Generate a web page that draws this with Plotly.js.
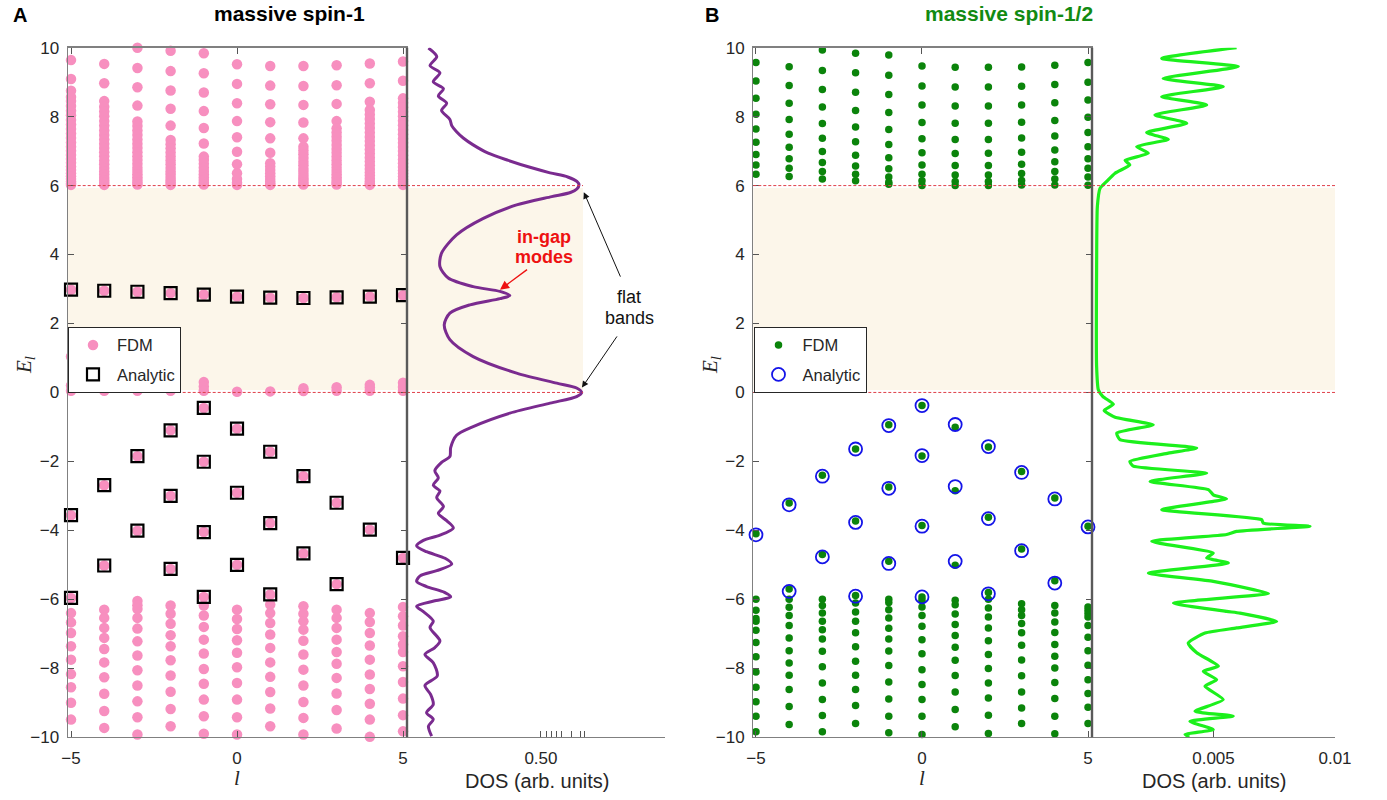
<!DOCTYPE html>
<html>
<head>
<meta charset="utf-8">
<script src="https://cdn.plot.ly/plotly-3.0.1.min.js"></script>
<style>
  html, body { margin: 0; padding: 0; background: #fff; }
  #chart { width: 1387px; height: 800px; }
</style>
</head>
<body>
<div id="chart"></div>
<script>
// Angular momentum channels
const lValues = [-5, -4, -3, -2, -1, 0, 1, 2, 3, 4, 5];

// Gap edges (flat bands)
const gapBottom = 0;
const gapTop = 6;

// ---------- massive spin-1: FDM eigenvalues, one list per l ----------
const spin1Upper = [
  [9.64, 9.09, 8.75, 8.57, 8.45, 8.31, 8.17, 8.04, 7.90, 7.77, 7.64, 7.51, 7.38, 7.25, 7.13, 7.01, 6.89, 6.77, 6.66, 6.55, 6.45, 6.36, 6.27, 6.19, 6.12, 6.06, 6.02],
  [9.53, 8.97, 8.45, 8.29, 8.15, 8.01, 7.87, 7.74, 7.60, 7.47, 7.34, 7.21, 7.09, 6.97, 6.85, 6.73, 6.62, 6.51, 6.41, 6.32, 6.23, 6.15, 6.08, 6.02],
  [10.0, 9.41, 8.85, 8.32, 7.86, 7.73, 7.60, 7.47, 7.34, 7.21, 7.09, 6.97, 6.85, 6.74, 6.63, 6.52, 6.42, 6.33, 6.24, 6.16, 6.09, 6.03],
  [9.91, 9.32, 8.76, 8.23, 7.74, 7.32, 7.20, 7.08, 6.96, 6.84, 6.73, 6.62, 6.51, 6.41, 6.32, 6.23, 6.15, 6.08, 6.02],
  [9.84, 9.26, 8.70, 8.16, 7.67, 7.22, 6.84, 6.74, 6.63, 6.52, 6.42, 6.33, 6.24, 6.16, 6.09, 6.03],
  [9.52, 8.95, 8.39, 7.87, 7.40, 6.98, 6.62, 6.36, 6.19, 6.08, 6.02],
  [9.47, 8.90, 8.36, 7.84, 7.37, 6.95, 6.65, 6.55, 6.45, 6.36, 6.27, 6.19, 6.12, 6.06, 6.02],
  [9.47, 8.89, 8.34, 7.83, 7.37, 7.13, 7.02, 6.91, 6.80, 6.69, 6.59, 6.49, 6.40, 6.31, 6.23, 6.16, 6.09, 6.03],
  [9.49, 8.91, 8.37, 7.87, 7.66, 7.54, 7.42, 7.30, 7.18, 7.06, 6.95, 6.84, 6.73, 6.62, 6.52, 6.42, 6.33, 6.24, 6.16, 6.09, 6.03],
  [9.54, 8.97, 8.43, 8.19, 8.06, 7.93, 7.80, 7.67, 7.54, 7.41, 7.29, 7.17, 7.05, 6.93, 6.81, 6.70, 6.59, 6.48, 6.38, 6.29, 6.20, 6.12, 6.06, 6.02],
  [9.60, 9.04, 8.53, 8.40, 8.27, 8.14, 8.01, 7.88, 7.75, 7.62, 7.49, 7.36, 7.24, 7.12, 7.00, 6.88, 6.76, 6.65, 6.54, 6.44, 6.35, 6.26, 6.18, 6.11, 6.05, 6.02]
];
const spin1Mid = [
  [2.98, 1.04, 0.20, 0.05, -3.56, -5.96],
  [2.95, 0.05, -2.69, -5.02],
  [2.92, 0.05, -1.85, -4.01],
  [2.88, 0.05, -1.10, -3.00, -5.12],
  [2.84, 0.30, 0.17, 0.05, -0.45, -2.01, -4.05, -5.93],
  [2.78, 0.02, -1.05, -2.91, -5.00],
  [2.75, 0.03, -1.72, -3.79, -5.86],
  [2.74, 0.12, 0.04, -2.43, -4.67],
  [2.76, 0.15, 0.05, -3.20, -5.56],
  [2.78, 0.22, 0.14, 0.05, -3.98],
  [2.82, 0.28, 0.16, 0.05, -4.80]
];
const spin1Lower = [
  [-6.40, -6.67, -6.98, -7.36, -7.75, -8.17, -8.55, -9.00, -9.49],
  [-6.30, -6.54, -6.83, -7.12, -7.44, -7.83, -8.26, -8.74, -9.24, -9.73],
  [-6.05, -6.17, -6.28, -6.54, -6.85, -7.22, -7.63, -8.06, -8.50, -8.96, -9.42, -9.92],
  [-6.18, -6.42, -6.71, -7.04, -7.36, -7.77, -8.21, -8.68, -9.18, -9.68],
  [-6.18, -6.47, -6.80, -7.17, -7.57, -8.02, -8.45, -8.91, -9.39, -9.90],
  [-6.30, -6.57, -6.86, -7.19, -7.55, -7.97, -8.43, -8.91, -9.42, -9.92],
  [-6.15, -6.40, -6.69, -7.02, -7.41, -7.83, -8.25, -8.69, -9.17, -9.68],
  [-6.20, -6.42, -6.64, -6.88, -7.20, -7.60, -8.04, -8.50, -8.98, -9.44, -9.92],
  [-6.30, -6.54, -6.83, -7.17, -7.53, -7.87, -8.28, -8.73, -9.21, -9.75],
  [-6.40, -6.66, -6.98, -7.34, -7.75, -8.18, -8.60, -9.03, -9.49, -9.99],
  [-6.22, -6.49, -6.76, -7.07, -7.31, -7.53, -7.94, -8.40, -8.88, -9.36, -9.83]
];
// Analytic spin-1 bound states
const spin1Analytic = [
  [2.98, -3.56, -5.96],
  [2.95, -2.69, -5.02],
  [2.92, -1.85, -4.01],
  [2.88, -1.10, -3.00, -5.12],
  [2.84, -0.45, -2.01, -4.05, -5.93],
  [2.78, -1.05, -2.91, -5.00],
  [2.75, -1.72, -3.79, -5.86],
  [2.74, -2.43, -4.67],
  [2.76, -3.20, -5.56],
  [2.78, -3.98],
  [2.82, -4.80]
];

// ---------- massive spin-1/2: FDM eigenvalues, one list per l ----------
const spinHalfUpper = [
  [9.57, 9.03, 8.53, 8.07, 7.64, 7.26, 6.90, 6.60, 6.33],
  [9.45, 8.90, 8.39, 7.92, 7.49, 7.11, 6.78, 6.50, 6.26],
  [9.93, 9.34, 8.79, 8.28, 7.80, 7.37, 6.99, 6.67, 6.41, 6.19],
  [9.84, 9.27, 8.71, 8.18, 7.70, 7.27, 6.88, 6.57, 6.33, 6.14],
  [9.79, 9.20, 8.64, 8.12, 7.63, 7.19, 6.81, 6.49, 6.25, 6.10, 6.04],
  [9.47, 8.89, 8.34, 7.83, 7.36, 6.95, 6.60, 6.33, 6.14, 6.00],
  [9.43, 8.86, 8.31, 7.81, 7.34, 6.93, 6.58, 6.31, 6.12, 6.00],
  [9.43, 8.86, 8.31, 7.81, 7.34, 6.94, 6.58, 6.31, 6.12, 6.00],
  [9.44, 8.88, 8.34, 7.84, 7.38, 6.97, 6.62, 6.35, 6.15, 6.02],
  [9.49, 8.93, 8.40, 7.89, 7.44, 7.03, 6.69, 6.41, 6.19, 6.02],
  [9.57, 9.00, 8.48, 7.98, 7.54, 7.13, 6.78, 6.50, 6.25, 6.01]
];
const spinHalfMid = [
  [-4.10],
  [-3.21, -5.70],
  [-2.40, -4.70],
  [-1.64, -3.73, -5.89],
  [-0.94, -2.74, -4.90],
  [-0.38, -1.84, -3.86, -5.93],
  [-1.01, -2.85, -5.01],
  [-1.58, -3.62, -5.80],
  [-2.29, -4.54],
  [-3.06, -5.46],
  [-3.88]
];
const spinHalfLower = [
  [-6.00, -6.32, -6.56, -6.64, -6.90, -7.25, -7.67, -8.11, -8.55, -8.97, -9.39, -9.84],
  [-6.00, -6.23, -6.47, -6.76, -7.12, -7.49, -7.85, -8.20, -8.62, -9.11, -9.63],
  [-6.00, -6.18, -6.40, -6.64, -6.88, -7.15, -7.51, -7.96, -8.43, -8.91, -9.37, -9.84],
  [-6.11, -6.37, -6.64, -6.97, -7.38, -7.80, -8.20, -8.62, -9.08, -9.60],
  [-6.00, -6.09, -6.30, -6.54, -6.84, -7.15, -7.50, -7.92, -8.40, -8.89, -9.39, -9.87],
  [-6.03, -6.22, -6.47, -6.78, -7.17, -7.58, -8.04, -8.47, -8.91, -9.39, -9.92],
  [-6.03, -6.16, -6.43, -6.73, -7.05, -7.39, -7.77, -8.21, -8.69, -9.20, -9.70],
  [-6.00, -6.25, -6.51, -6.83, -7.20, -7.60, -8.01, -8.43, -8.86, -9.36, -9.89],
  [-6.13, -6.30, -6.47, -6.70, -6.97, -7.33, -7.76, -8.22, -8.69, -9.15, -9.60],
  [-6.18, -6.40, -6.66, -6.96, -7.31, -7.65, -7.99, -8.41, -8.88, -9.39, -9.90],
  [-6.22, -6.32, -6.41, -6.51, -6.76, -7.10, -7.49, -7.91, -8.33, -8.73, -9.13, -9.60]
];
// Analytic spin-1/2 bound states
const spinHalfAnalytic = [
  [-4.13],
  [-3.26, -5.77],
  [-2.43, -4.77],
  [-1.64, -3.77, -5.91],
  [-0.96, -2.78, -4.96],
  [-0.38, -1.83, -3.88, -5.93],
  [-0.93, -2.73, -4.90],
  [-1.57, -3.66, -5.84],
  [-2.32, -4.59],
  [-3.09, -5.53],
  [-3.90]
];

// ---------- density of states ----------
const dosSpin1E = [9.99, 9.74, 9.48, 9.27, 9.01, 8.81, 8.60, 8.39, 8.18, 7.92, 7.74, 7.56, 7.38, 7.18, 6.94, 6.73, 6.53, 6.37, 6.25, 6.12, 6.02, 5.90, 5.80, 5.68, 5.44, 5.05, 4.57, 4.04, 3.65, 3.32, 3.07, 2.93, 2.81, 2.72, 2.54, 2.30, 1.96, 1.53, 1.04, 0.56, 0.27, 0.13, 0.00, -0.12, -0.31, -0.60, -0.99, -1.24, -1.60, -1.86, -2.03, -2.27, -2.48, -2.69, -2.86, -3.05, -3.31, -3.51, -3.72, -3.93, -4.14, -4.29, -4.45, -4.62, -4.81, -4.98, -5.17, -5.32, -5.48, -5.63, -5.80, -5.93, -6.05, -6.20, -6.35, -6.63, -6.82, -7.21, -7.40, -7.60, -7.84, -8.22, -8.50, -8.76, -9.05, -9.29, -9.48, -9.68, -9.97];
const dosSpin1 = [0.080, 0.111, 0.086, 0.123, 0.098, 0.136, 0.117, 0.148, 0.129, 0.160, 0.167, 0.185, 0.210, 0.247, 0.303, 0.378, 0.459, 0.534, 0.600, 0.634, 0.642, 0.634, 0.610, 0.540, 0.409, 0.285, 0.185, 0.129, 0.123, 0.154, 0.247, 0.347, 0.384, 0.347, 0.235, 0.160, 0.139, 0.160, 0.247, 0.409, 0.559, 0.633, 0.652, 0.633, 0.534, 0.384, 0.247, 0.185, 0.163, 0.160, 0.129, 0.104, 0.117, 0.098, 0.123, 0.111, 0.136, 0.117, 0.148, 0.173, 0.123, 0.061, 0.036, 0.073, 0.142, 0.167, 0.111, 0.049, 0.036, 0.073, 0.140, 0.163, 0.100, 0.036, 0.060, 0.098, 0.086, 0.123, 0.104, 0.067, 0.098, 0.113, 0.067, 0.088, 0.098, 0.073, 0.098, 0.080, 0.092];

const dosSpinHalfE = [10.00, 9.69, 9.45, 9.11, 8.87, 8.58, 8.34, 8.05, 7.81, 7.54, 7.34, 7.13, 6.94, 6.73, 6.60, 6.36, 6.12, 5.92, 5.39, 3.65, 0.75, 0.08, -0.12, -0.34, -0.52, -0.72, -0.94, -1.18, -1.37, -1.61, -1.76, -2.00, -2.14, -2.34, -2.58, -2.82, -2.97, -3.09, -3.16, -3.40, -3.69, -3.79, -3.88, -4.03, -4.12, -4.32, -4.66, -4.80, -4.95, -5.24, -5.48, -5.72, -5.83, -6.11, -6.35, -6.40, -6.64, -6.83, -6.98, -7.27, -7.55, -7.94, -8.09, -8.33, -8.52, -8.91, -9.25, -9.39, -9.54, -9.78, -9.92, -10.0];
const dosSpinHalf = [0.00595, 0.00287, 0.00602, 0.00293, 0.00540, 0.00287, 0.00472, 0.00259, 0.00390, 0.00225, 0.00314, 0.00184, 0.00232, 0.00136, 0.00156, 0.00095, 0.00060, 0.00033, 0.00022, 0.00019, 0.00019, 0.00026, 0.00045, 0.00088, 0.00050, 0.00095, 0.00252, 0.00102, 0.00115, 0.00431, 0.00314, 0.00156, 0.00170, 0.00472, 0.00239, 0.00479, 0.00499, 0.00554, 0.00499, 0.00287, 0.00698, 0.00705, 0.00897, 0.00595, 0.00554, 0.00246, 0.00499, 0.00472, 0.00561, 0.00232, 0.00499, 0.00664, 0.00726, 0.00335, 0.00554, 0.00609, 0.00760, 0.00595, 0.00465, 0.00396, 0.00431, 0.00520, 0.00458, 0.00513, 0.00465, 0.00540, 0.00424, 0.00581, 0.00403, 0.00499, 0.00383, 0.00400];

// DOS axis ticks
const dosSpin1TickVals = [0.5, 0.521, 0.540, 0.558, 0.575, 0.615, 0.646, 0.662];
const dosSpin1TickText = ['0.50', '', '', '', '', '', '', ''];
const dosSpinHalfTickVals = [0.005, 0.01];
const dosSpinHalfTickText = ['0.005', '0.01'];

// ---------- helpers ----------
function columns(...groups) {
  const xs = [], ys = [];
  groups.forEach(g => g.forEach((col, i) => col.forEach(e => { xs.push(lValues[i]); ys.push(e); })));
  return { xs, ys };
}

const FONT = 'Liberation Sans, Arial, Helvetica, sans-serif';
const SERIF = 'Liberation Serif, Times New Roman, serif';
const W = 1387, H = 800;
const px = v => v / W;
const py = v => 1 - v / H;

const pink = '#f78fbf';
const green = '#0b840b';
const purple = '#7a2b8f';
const lime = '#1cf01c';
const shade = '#fcf6ea';
const dashRed = '#e0404a';

const fdmA = columns(spin1Upper, spin1Mid, spin1Lower);
const anaA = columns(spin1Analytic);
const fdmB = columns(spinHalfUpper, spinHalfMid, spinHalfLower);
const anaB = columns(spinHalfAnalytic);

const traces = [
  { type: 'scatter', mode: 'markers', name: 'FDM', x: fdmA.xs, y: fdmA.ys, xaxis: 'x', yaxis: 'y',
    cliponaxis: false, marker: { color: pink, size: 10.5 }, legend: 'legend', legendgroup: 'a1' },
  { type: 'scatter', mode: 'markers', name: 'Analytic', x: anaA.xs, y: anaA.ys, xaxis: 'x', yaxis: 'y',
    cliponaxis: false, marker: { symbol: 'square-open', color: '#000', size: 12, line: { width: 2.2 } },
    legend: 'legend', legendgroup: 'a2' },
  { type: 'scatter', mode: 'lines', name: 'DOS spin-1', x: dosSpin1, y: dosSpin1E, xaxis: 'x2', yaxis: 'y',
    line: { color: purple, width: 3, shape: 'spline', smoothing: 0.8 }, showlegend: false },
  { type: 'scatter', mode: 'markers', name: 'FDM', x: fdmB.xs, y: fdmB.ys, xaxis: 'x3', yaxis: 'y2',
    cliponaxis: false, marker: { color: green, size: 7.5 }, legend: 'legend2', legendgroup: 'b1' },
  { type: 'scatter', mode: 'markers', name: 'Analytic', x: anaB.xs, y: anaB.ys, xaxis: 'x3', yaxis: 'y2',
    cliponaxis: false, marker: { symbol: 'circle-open', color: '#1414e8', size: 13, line: { width: 1.8 } },
    legend: 'legend2', legendgroup: 'b2' },
  { type: 'scatter', mode: 'lines', name: 'DOS spin-1/2', x: dosSpinHalf, y: dosSpinHalfE, xaxis: 'x4', yaxis: 'y2',
    line: { color: lime, width: 3.2, shape: 'spline', smoothing: 0.5 }, showlegend: false }
];

const yDomain = [0.0785, 0.9404];
const tickFont = { family: FONT, size: 17, color: '#262626' };
const axisCommon = {
  showgrid: false, zeroline: false, showline: true, linecolor: '#808080', linewidth: 1.2,
  ticks: 'inside', ticklen: 6, tickwidth: 1, tickcolor: '#555', tickfont: tickFont, fixedrange: true
};

function label(x, y, text, font, extra) {
  return Object.assign({ xref: 'paper', yref: 'paper', x: px(x), y: py(y), text, showarrow: false,
    xanchor: 'center', yanchor: 'middle', font }, extra || {});
}

const layout = {
  width: W, height: H,
  margin: { l: 0, r: 0, t: 0, b: 0 },
  paper_bgcolor: '#fff', plot_bgcolor: 'rgba(0,0,0,0)',
  showlegend: true,
  xaxis: Object.assign({}, axisCommon, { domain: [px(67.7), px(407)], range: [-5.1, 5.12], anchor: 'y',
    tickvals: [-5, 0, 5], mirror: 'ticks', ticklabelstandoff: 5 }),
  yaxis: Object.assign({}, axisCommon, { domain: yDomain, range: [-10, 10], anchor: 'x',
    tickvals: [-10, -8, -6, -4, -2, 0, 2, 4, 6, 8, 10], mirror: 'ticks', ticklabelstandoff: 4 }),
  xaxis2: Object.assign({}, axisCommon, { domain: [px(407), px(665)], range: [0, 0.963], anchor: 'y',
    tickvals: dosSpin1TickVals, ticktext: dosSpin1TickText, ticklabelstandoff: 5 }),
  xaxis3: Object.assign({}, axisCommon, { domain: [px(753.3), px(1092)], range: [-5.08, 5.12], anchor: 'y2',
    tickvals: [-5, 0, 5], mirror: 'ticks', ticklabelstandoff: 5 }),
  yaxis2: Object.assign({}, axisCommon, { domain: yDomain, range: [-10, 10], anchor: 'x3',
    tickvals: [-10, -8, -6, -4, -2, 0, 2, 4, 6, 8, 10], mirror: 'ticks', ticklabelstandoff: 4 }),
  xaxis4: Object.assign({}, axisCommon, { domain: [px(1092), px(1335)], range: [0, 0.01], anchor: 'y2',
    tickvals: dosSpinHalfTickVals, ticktext: dosSpinHalfTickText, ticklabelstandoff: 5 }),
  legend: {
    x: px(68), y: py(326.7), xanchor: 'left', yanchor: 'top',
    bgcolor: '#fff', bordercolor: '#262626', borderwidth: 1,
    font: { family: FONT, size: 16.5, color: '#262626' }, itemwidth: 38, tracegroupgap: 5,
    traceorder: 'grouped'
  },
  legend2: {
    x: px(753.5), y: py(326.7), xanchor: 'left', yanchor: 'top',
    bgcolor: '#fff', bordercolor: '#262626', borderwidth: 1,
    font: { family: FONT, size: 16.5, color: '#262626' }, itemwidth: 38, tracegroupgap: 5,
    traceorder: 'grouped'
  },
  shapes: [
    // gap shading
    { type: 'rect', xref: 'x domain', yref: 'y', x0: 0, x1: 1, y0: gapBottom + 0.07, y1: gapTop - 0.07,
      fillcolor: shade, line: { width: 0 }, layer: 'below' },
    { type: 'rect', xref: 'x2', yref: 'y', x0: 0, x1: 0.657, y0: gapBottom + 0.07, y1: gapTop - 0.07,
      fillcolor: shade, line: { width: 0 }, layer: 'below' },
    { type: 'rect', xref: 'x3 domain', yref: 'y2', x0: 0, x1: 1, y0: gapBottom + 0.07, y1: gapTop - 0.07,
      fillcolor: shade, line: { width: 0 }, layer: 'below' },
    { type: 'rect', xref: 'x4 domain', yref: 'y2', x0: 0, x1: 1, y0: gapBottom + 0.07, y1: gapTop - 0.07,
      fillcolor: shade, line: { width: 0 }, layer: 'below' },
    // gap edges
    ...[gapBottom, gapTop].flatMap(e => [
      { type: 'line', xref: 'x domain', yref: 'y', x0: 0, x1: 1, y0: e, y1: e,
        line: { color: dashRed, width: 1, dash: '3px,2px' }, layer: 'above' },
      { type: 'line', xref: 'x2', yref: 'y', x0: 0, x1: 0.657, y0: e, y1: e,
        line: { color: dashRed, width: 1, dash: '3px,2px' }, layer: 'above' },
      { type: 'line', xref: 'x3 domain', yref: 'y2', x0: 0, x1: 1, y0: e, y1: e,
        line: { color: dashRed, width: 1, dash: '3px,2px' }, layer: 'above' },
      { type: 'line', xref: 'x4 domain', yref: 'y2', x0: 0, x1: 1, y0: e, y1: e,
        line: { color: dashRed, width: 1, dash: '3px,2px' }, layer: 'above' }
    ]),
    // panel separators
    { type: 'line', xref: 'x domain', yref: 'y domain', x0: 1, x1: 1, y0: 0, y1: 1,
      line: { color: '#5a5a5a', width: 2.4 }, layer: 'above' },
    { type: 'line', xref: 'x3 domain', yref: 'y2 domain', x0: 1, x1: 1, y0: 0, y1: 1,
      line: { color: '#5a5a5a', width: 2.4 }, layer: 'above' }
  ],
  annotations: [
    label(20, 15, '<b>A</b>', { family: FONT, size: 20, color: '#000' }),
    label(289, 14, '<b>massive spin-1</b>', { family: FONT, size: 21, color: '#000' }),
    label(712, 15, '<b>B</b>', { family: FONT, size: 20, color: '#000' }),
    label(1009, 14, '<b>massive spin-1/2</b>', { family: FONT, size: 21, color: '#128a12' }),
    // axis titles
    label(25, 365, '<i>E<sub>l</sub></i>', { family: SERIF, size: 21, color: '#262626' }, { textangle: -90 }),
    label(711, 365, '<i>E<sub>l</sub></i>', { family: SERIF, size: 21, color: '#262626' }, { textangle: -90 }),
    label(237, 778, '<i>l</i>', { family: SERIF, size: 21, color: '#262626' }),
    label(922, 778, '<i>l</i>', { family: SERIF, size: 21, color: '#262626' }),
    label(537, 781, 'DOS (arb. units)', { family: FONT, size: 20, color: '#262626' }),
    label(1214, 781, 'DOS (arb. units)', { family: FONT, size: 20, color: '#262626' }),
    // in-gap label; the arrow leaves from "modes" towards the in-gap peak
    { xref: 'x2', yref: 'y', x: 0.512, y: 4.50, text: '<b>in-gap</b>', showarrow: false,
      xanchor: 'center', yanchor: 'middle', font: { family: FONT, size: 18, color: '#ee1111' } },
    { xref: 'x2', yref: 'y', x: 0.347, y: 2.98, axref: 'x2', ayref: 'y', ax: 0.512, ay: 3.93,
      text: '<b>modes</b>', font: { family: FONT, size: 18, color: '#ee1111' },
      showarrow: true, arrowhead: 2, arrowsize: 1.3, arrowwidth: 1.4, arrowcolor: '#ee1111', startstandoff: 2 },
    // flat bands label with one arrow to each band edge
    { xref: 'x2', yref: 'y', x: 0.660, y: 5.81, axref: 'x2', ayref: 'y', ax: 0.830, ay: 2.76,
      text: 'flat', font: { family: FONT, size: 18, color: '#111' },
      showarrow: true, arrowhead: 2, arrowsize: 1.3, arrowwidth: 1, arrowcolor: '#111', startstandoff: 10 },
    { xref: 'x2', yref: 'y', x: 0.653, y: 0.14, axref: 'x2', ayref: 'y', ax: 0.830, ay: 2.15,
      text: 'bands', font: { family: FONT, size: 18, color: '#111' },
      showarrow: true, arrowhead: 2, arrowsize: 1.3, arrowwidth: 1, arrowcolor: '#111', startstandoff: 8 }
  ]
};

Plotly.newPlot('chart', traces, layout, { displayModeBar: false, staticPlot: true });
</script>
</body>
</html>
